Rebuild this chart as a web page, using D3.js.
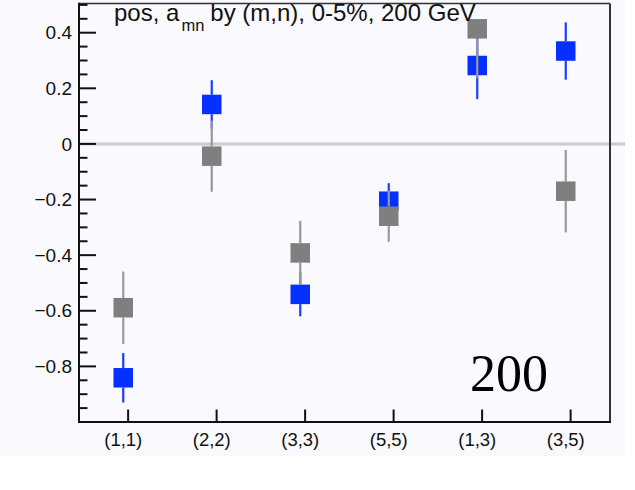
<!DOCTYPE html>
<html>
<head>
<meta charset="utf-8">
<script src="https://cdn.jsdelivr.net/npm/d3@7/dist/d3.min.js"></script>
<style>
  html, body { margin: 0; padding: 0; background: #ffffff; }
  svg { display: block; }
  .sans { font-family: "Liberation Sans", Arial, Helvetica, sans-serif; }
  .serif { font-family: "Liberation Serif", "Times New Roman", serif; }
</style>
</head>
<body>
<svg id="chart" width="635" height="490"></svg>
<script>
// (m,n) harmonic pairs along the x axis
const categories = ["(1,1)", "(2,2)", "(3,3)", "(5,5)", "(1,3)", "(3,5)"];

// blue series: a_mn values and their uncertainties
const blueValues = [-0.841, 0.142, -0.541, -0.206, 0.282, 0.334];
const blueErrors = [0.089, 0.087, 0.079, 0.065, 0.121, 0.103];

// gray series: a_mn values and their uncertainties
const grayValues = [-0.589, -0.044, -0.392, -0.260, 0.414, -0.170];
const grayErrors = [0.130, 0.128, 0.115, 0.092, 0.178, 0.148];

// y axis labels
const yTickValues = [-0.8, -0.6, -0.4, -0.2, 0, 0.2, 0.4];
const yTickLabels = ["\u22120.8", "\u22120.6", "\u22120.4", "\u22120.2", "0", "0.2", "0.4"];

const svg = d3.select("#chart");

const frame = { left: 79, right: 610, top: 3.5, bottom: 422 };

// panel background
svg.append("rect")
  .attr("x", 0).attr("y", 0)
  .attr("width", 625).attr("height", 456)
  .attr("fill", "#f9f9fe");

const yDomain = [-1.0, 0.505];
const x = d3.scaleLinear().domain([0, categories.length]).range([frame.left, frame.right]);
const y = d3.scaleLinear().domain(yDomain).range([frame.bottom, frame.top]);

const xPos = i => x(i + 0.5);
const tickShift = 0.055; // tick marks sit slightly right of the bin centre

// zero reference line
svg.append("line")
  .attr("x1", frame.left).attr("x2", 625)
  .attr("y1", y(0)).attr("y2", y(0))
  .attr("stroke", "#cbcbcb").attr("stroke-width", 3);

// frame: top and right edges
svg.append("line")
  .attr("x1", frame.left).attr("x2", frame.right)
  .attr("y1", frame.top).attr("y2", frame.top)
  .attr("stroke", "#333").attr("stroke-width", 1.5);
svg.append("line")
  .attr("x1", frame.right).attr("x2", frame.right)
  .attr("y1", frame.top).attr("y2", frame.bottom)
  .attr("stroke", "#333").attr("stroke-width", 2);

// y axis with inward major and minor ticks
const yMinor = d3.range(-1.0, 0.5001, 0.05).map(v => +v.toFixed(2));
const yAxisG = svg.append("g");
yAxisG.selectAll("line.tick")
  .data(yMinor)
  .join("line")
  .attr("class", "tick")
  .attr("x1", frame.left)
  .attr("x2", d => frame.left + (yTickValues.some(t => Math.abs(t - d) < 1e-6) ? 17 : 8.5))
  .attr("y1", d => y(d)).attr("y2", d => y(d))
  .attr("stroke", "#111").attr("stroke-width", 2);
yAxisG.selectAll("text")
  .data(yTickValues)
  .join("text")
  .attr("class", "sans")
  .attr("x", frame.left - 7)
  .attr("y", d => y(d))
  .attr("dy", "0.35em")
  .attr("text-anchor", "end")
  .attr("font-size", 19)
  .attr("fill", "#111")
  .text((d, i) => yTickLabels[i]);
yAxisG.append("line")
  .attr("x1", frame.left).attr("x2", frame.left)
  .attr("y1", frame.top - 0.75).attr("y2", frame.bottom + 1)
  .attr("stroke", "#111").attr("stroke-width", 2);

// x axis with inward ticks and category labels
const xAxisG = svg.append("g");
xAxisG.selectAll("line.tick")
  .data(categories)
  .join("line")
  .attr("class", "tick")
  .attr("x1", (d, i) => x(i + 0.5 + tickShift))
  .attr("x2", (d, i) => x(i + 0.5 + tickShift))
  .attr("y1", frame.bottom).attr("y2", frame.bottom - 12.5)
  .attr("stroke", "#111").attr("stroke-width", 2);
xAxisG.selectAll("text")
  .data(categories)
  .join("text")
  .attr("class", "sans")
  .attr("x", (d, i) => xPos(i))
  .attr("y", frame.bottom + 24)
  .attr("text-anchor", "middle")
  .attr("font-size", 18.5)
  .attr("fill", "#111")
  .text(d => d);
xAxisG.append("line")
  .attr("x1", frame.left - 1).attr("x2", frame.right + 1)
  .attr("y1", frame.bottom).attr("y2", frame.bottom)
  .attr("stroke", "#111").attr("stroke-width", 2);

// one series: error bars drawn from the marker edge outward (an arm that
// leaves the frame is left out), then square markers
const markerSize = 19.5;
function drawSeries(values, errors, color, barColor) {
  const g = svg.append("g");
  const arms = [];
  values.forEach((v, i) => {
    const hi = v + errors[i], lo = v - errors[i];
    if (hi <= yDomain[1]) arms.push({ i, from: v, to: hi, dir: -1 });
    if (lo >= yDomain[0]) arms.push({ i, from: v, to: lo, dir: 1 });
  });
  g.selectAll("line")
    .data(arms)
    .join("line")
    .attr("x1", d => xPos(d.i)).attr("x2", d => xPos(d.i))
    .attr("y1", d => y(d.from) + d.dir * markerSize / 2)
    .attr("y2", d => y(d.to))
    .attr("stroke", barColor).attr("stroke-width", 2.2);
  g.selectAll("rect")
    .data(values)
    .join("rect")
    .attr("x", (d, i) => xPos(i) - markerSize / 2)
    .attr("y", d => y(d) - markerSize / 2)
    .attr("width", markerSize).attr("height", markerSize)
    .attr("fill", color);
}

drawSeries(blueValues, blueErrors, "#0530ff", "#1b3dff");
drawSeries(grayValues, grayErrors, "#7f7f7f", "#999999");

// title with subscript
const title = svg.append("text")
  .attr("class", "sans")
  .attr("x", 114).attr("y", 21)
  .attr("font-size", 24)
  .attr("fill", "#111");
title.append("tspan").text("pos, a");
title.append("tspan").attr("font-size", 16.5).attr("dy", 10).attr("dx", 2).text("mn");
title.append("tspan").attr("dy", -10).attr("dx", 6).text("by (m,n), 0-5%, 200 GeV");

// energy label
svg.append("text")
  .attr("class", "serif")
  .attr("x", 470).attr("y", 391)
  .attr("font-size", 52)
  .attr("fill", "#000")
  .text("200");
</script>
</body>
</html>
